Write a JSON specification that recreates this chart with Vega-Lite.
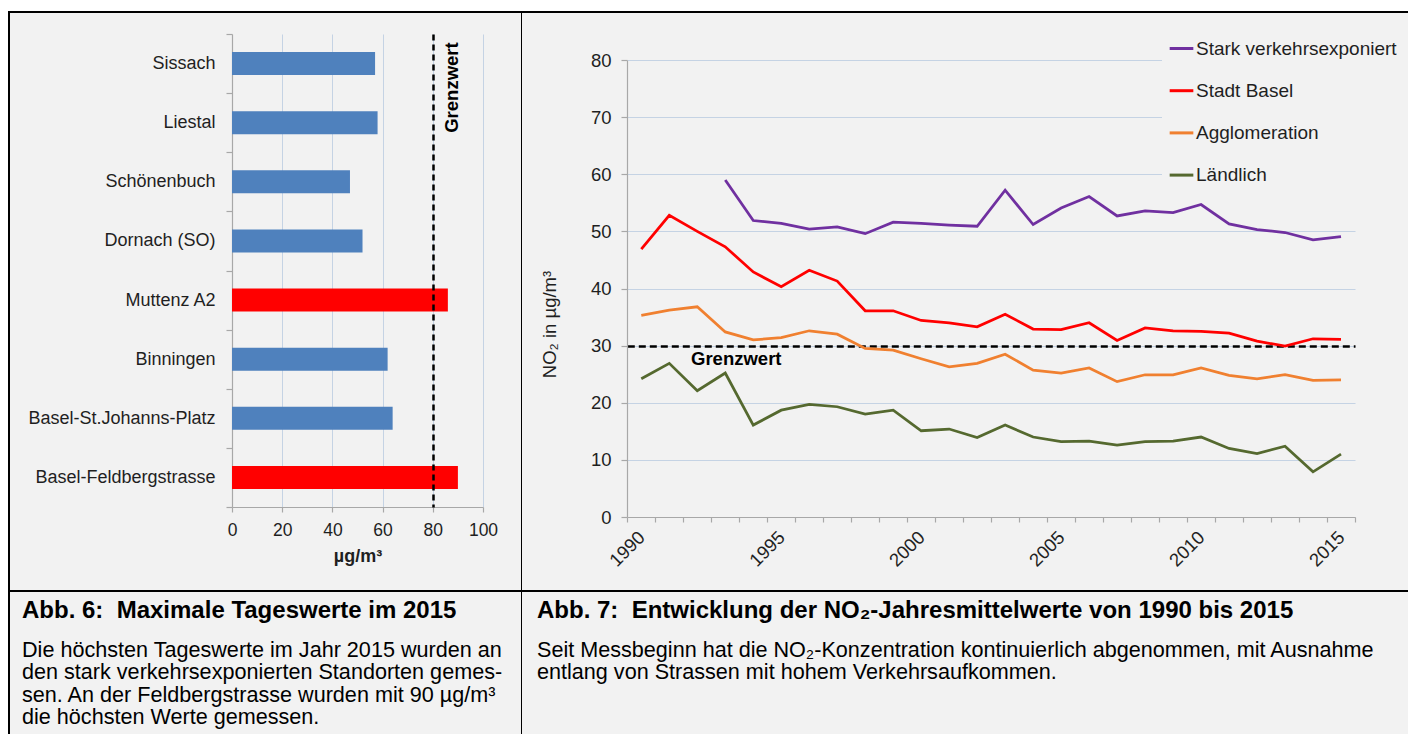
{
  "$schema": "https://vega.github.io/schema/vega-lite/v6.json",
  "background": "#ffffff",
  "padding": {"left": 8, "top": 2, "right": 0, "bottom": 0},
  "spacing": 0,
  "bounds": "flush",
  "align": "each",
  "columns": 2,
  "config": {
    "font": "Liberation Sans, Arial, DejaVu Sans, sans-serif",
    "axis": {
      "labelColor": "#1f1f1f",
      "titleColor": "#1f1f1f",
      "domainColor": "#a8a8a8",
      "tickColor": "#a8a8a8",
      "gridColor": "#c5d3e4",
      "gridWidth": 1,
      "domainWidth": 1.2,
      "tickWidth": 1.2
    }
  },
  "datasets": {
    "stations": [
      {"station": "Sissach", "value": 57},
      {"station": "Liestal", "value": 58},
      {"station": "Schönenbuch", "value": 47},
      {"station": "Dornach (SO)", "value": 52},
      {"station": "Muttenz A2", "value": 86},
      {"station": "Binningen", "value": 62},
      {"station": "Basel-St.Johanns-Platz", "value": 64},
      {"station": "Basel-Feldbergstrasse", "value": 90}
    ],
    "limitBar": [{"station": "Sissach", "value": 80, "label": "Grenzwert"}],
    "limitLine": [{"year": 1993, "value": 30, "label": "Grenzwert"}],
    "no2": [
      {"series": "Stark verkehrsexponiert", "year": 1993, "value": 59.0},
      {"series": "Stark verkehrsexponiert", "year": 1994, "value": 51.9},
      {"series": "Stark verkehrsexponiert", "year": 1995, "value": 51.4},
      {"series": "Stark verkehrsexponiert", "year": 1996, "value": 50.4},
      {"series": "Stark verkehrsexponiert", "year": 1997, "value": 50.8},
      {"series": "Stark verkehrsexponiert", "year": 1998, "value": 49.6},
      {"series": "Stark verkehrsexponiert", "year": 1999, "value": 51.6},
      {"series": "Stark verkehrsexponiert", "year": 2000, "value": 51.4},
      {"series": "Stark verkehrsexponiert", "year": 2001, "value": 51.1},
      {"series": "Stark verkehrsexponiert", "year": 2002, "value": 50.9},
      {"series": "Stark verkehrsexponiert", "year": 2003, "value": 57.2},
      {"series": "Stark verkehrsexponiert", "year": 2004, "value": 51.2},
      {"series": "Stark verkehrsexponiert", "year": 2005, "value": 54.1},
      {"series": "Stark verkehrsexponiert", "year": 2006, "value": 56.1},
      {"series": "Stark verkehrsexponiert", "year": 2007, "value": 52.7},
      {"series": "Stark verkehrsexponiert", "year": 2008, "value": 53.6},
      {"series": "Stark verkehrsexponiert", "year": 2009, "value": 53.3},
      {"series": "Stark verkehrsexponiert", "year": 2010, "value": 54.7},
      {"series": "Stark verkehrsexponiert", "year": 2011, "value": 51.3},
      {"series": "Stark verkehrsexponiert", "year": 2012, "value": 50.3},
      {"series": "Stark verkehrsexponiert", "year": 2013, "value": 49.8},
      {"series": "Stark verkehrsexponiert", "year": 2014, "value": 48.5},
      {"series": "Stark verkehrsexponiert", "year": 2015, "value": 49.1},
      {"series": "Stadt Basel", "year": 1990, "value": 46.9},
      {"series": "Stadt Basel", "year": 1991, "value": 52.8},
      {"series": "Stadt Basel", "year": 1992, "value": 50.0},
      {"series": "Stadt Basel", "year": 1993, "value": 47.3},
      {"series": "Stadt Basel", "year": 1994, "value": 42.9},
      {"series": "Stadt Basel", "year": 1995, "value": 40.3},
      {"series": "Stadt Basel", "year": 1996, "value": 43.2},
      {"series": "Stadt Basel", "year": 1997, "value": 41.3},
      {"series": "Stadt Basel", "year": 1998, "value": 36.1},
      {"series": "Stadt Basel", "year": 1999, "value": 36.1},
      {"series": "Stadt Basel", "year": 2000, "value": 34.4},
      {"series": "Stadt Basel", "year": 2001, "value": 34.0},
      {"series": "Stadt Basel", "year": 2002, "value": 33.3},
      {"series": "Stadt Basel", "year": 2003, "value": 35.5},
      {"series": "Stadt Basel", "year": 2004, "value": 32.9},
      {"series": "Stadt Basel", "year": 2005, "value": 32.8},
      {"series": "Stadt Basel", "year": 2006, "value": 34.0},
      {"series": "Stadt Basel", "year": 2007, "value": 30.9},
      {"series": "Stadt Basel", "year": 2008, "value": 33.1},
      {"series": "Stadt Basel", "year": 2009, "value": 32.6},
      {"series": "Stadt Basel", "year": 2010, "value": 32.5},
      {"series": "Stadt Basel", "year": 2011, "value": 32.2},
      {"series": "Stadt Basel", "year": 2012, "value": 30.8},
      {"series": "Stadt Basel", "year": 2013, "value": 29.9},
      {"series": "Stadt Basel", "year": 2014, "value": 31.2},
      {"series": "Stadt Basel", "year": 2015, "value": 31.1},
      {"series": "Agglomeration", "year": 1990, "value": 35.3},
      {"series": "Agglomeration", "year": 1991, "value": 36.2},
      {"series": "Agglomeration", "year": 1992, "value": 36.8},
      {"series": "Agglomeration", "year": 1993, "value": 32.4},
      {"series": "Agglomeration", "year": 1994, "value": 31.0},
      {"series": "Agglomeration", "year": 1995, "value": 31.4},
      {"series": "Agglomeration", "year": 1996, "value": 32.6},
      {"series": "Agglomeration", "year": 1997, "value": 32.0},
      {"series": "Agglomeration", "year": 1998, "value": 29.5},
      {"series": "Agglomeration", "year": 1999, "value": 29.2},
      {"series": "Agglomeration", "year": 2000, "value": 27.7},
      {"series": "Agglomeration", "year": 2001, "value": 26.3},
      {"series": "Agglomeration", "year": 2002, "value": 26.9},
      {"series": "Agglomeration", "year": 2003, "value": 28.5},
      {"series": "Agglomeration", "year": 2004, "value": 25.7},
      {"series": "Agglomeration", "year": 2005, "value": 25.2},
      {"series": "Agglomeration", "year": 2006, "value": 26.1},
      {"series": "Agglomeration", "year": 2007, "value": 23.7},
      {"series": "Agglomeration", "year": 2008, "value": 24.9},
      {"series": "Agglomeration", "year": 2009, "value": 24.9},
      {"series": "Agglomeration", "year": 2010, "value": 26.1},
      {"series": "Agglomeration", "year": 2011, "value": 24.8},
      {"series": "Agglomeration", "year": 2012, "value": 24.2},
      {"series": "Agglomeration", "year": 2013, "value": 24.9},
      {"series": "Agglomeration", "year": 2014, "value": 23.9},
      {"series": "Agglomeration", "year": 2015, "value": 24.0},
      {"series": "Ländlich", "year": 1990, "value": 24.2},
      {"series": "Ländlich", "year": 1991, "value": 26.9},
      {"series": "Ländlich", "year": 1992, "value": 22.1},
      {"series": "Ländlich", "year": 1993, "value": 25.2},
      {"series": "Ländlich", "year": 1994, "value": 16.1},
      {"series": "Ländlich", "year": 1995, "value": 18.7},
      {"series": "Ländlich", "year": 1996, "value": 19.7},
      {"series": "Ländlich", "year": 1997, "value": 19.3},
      {"series": "Ländlich", "year": 1998, "value": 18.0},
      {"series": "Ländlich", "year": 1999, "value": 18.7},
      {"series": "Ländlich", "year": 2000, "value": 15.1},
      {"series": "Ländlich", "year": 2001, "value": 15.4},
      {"series": "Ländlich", "year": 2002, "value": 13.9},
      {"series": "Ländlich", "year": 2003, "value": 16.1},
      {"series": "Ländlich", "year": 2004, "value": 14.0},
      {"series": "Ländlich", "year": 2005, "value": 13.2},
      {"series": "Ländlich", "year": 2006, "value": 13.3},
      {"series": "Ländlich", "year": 2007, "value": 12.6},
      {"series": "Ländlich", "year": 2008, "value": 13.2},
      {"series": "Ländlich", "year": 2009, "value": 13.3},
      {"series": "Ländlich", "year": 2010, "value": 14.0},
      {"series": "Ländlich", "year": 2011, "value": 12.0},
      {"series": "Ländlich", "year": 2012, "value": 11.1},
      {"series": "Ländlich", "year": 2013, "value": 12.4},
      {"series": "Ländlich", "year": 2014, "value": 7.9},
      {"series": "Ländlich", "year": 2015, "value": 11.0}
    ]
  },
  "concat": [
    {
      "width": 513,
      "height": 579,
      "view": {"fill": "#f2f2f2", "stroke": "#000000", "strokeWidth": 2},
      "resolve": {"axis": {"x": "independent"}},
      "layer": [
        {
          "data": {"name": "stations"},
          "mark": {"type": "bar", "height": {"band": 0.39}},
          "encoding": {
            "y": {
              "field": "station",
              "type": "nominal",
              "scale": {
                "domain": ["Sissach", "Liestal", "Schönenbuch", "Dornach (SO)", "Muttenz A2", "Binningen", "Basel-St.Johanns-Platz", "Basel-Feldbergstrasse"],
                "range": [22, 495],
                "paddingInner": 0,
                "paddingOuter": 0
              },
              "axis": {
                "orient": "left",
                "offset": -223,
                "title": null,
                "tickBand": "extent",
                "tickSize": 6,
                "labelPadding": 11,
                "labelFontSize": 18,
                "labelLimit": 300,
                "grid": false
              }
            },
            "x": {
              "field": "value",
              "type": "quantitative",
              "scale": {"domain": [0, 100], "range": [223, 474], "nice": false},
              "axis": {
                "orient": "bottom",
                "offset": -84,
                "values": [0, 20, 40, 60, 80, 100],
                "grid": false,
                "tickSize": 5,
                "labelPadding": 9,
                "labelFontSize": 17.5,
                "labelFlush": false,
                "title": "µg/m³",
                "titleFontSize": 18,
                "titleFontWeight": "bold",
                "titlePadding": 9
              }
            },
            "color": {"condition": {"test": "datum.value > 80", "value": "#ff0000"}, "value": "#4f81bd"}
          }
        },
        {
          "data": {"name": "stations"},
          "mark": {"type": "point", "opacity": 0},
          "encoding": {
            "y": {"field": "station", "type": "nominal"},
            "x": {
              "field": "value",
              "type": "quantitative",
              "axis": {
                "orient": "top",
                "values": [20, 40, 60, 80, 100],
                "grid": true,
                "labels": false,
                "ticks": false,
                "domain": false,
                "title": null,
                "zindex": 0
              }
            }
          }
        },
        {
          "data": {"name": "limitBar"},
          "mark": {"type": "text", "angle": 270, "fontWeight": "bold", "fontSize": 18.5, "align": "center", "baseline": "middle", "dx": -24, "dy": 19, "color": "#000000"},
          "encoding": {
            "y": {"field": "station", "type": "nominal"},
            "x": {
              "field": "value",
              "type": "quantitative",
              "axis": {
                "orient": "top",
                "values": [80],
                "grid": true,
                "gridColor": "#000000",
                "gridDash": [6, 4],
                "gridWidth": 2.5,
                "labels": false,
                "ticks": false,
                "domain": false,
                "title": null,
                "zindex": 1
              }
            },
            "text": {"field": "label"}
          }
        }
      ]
    },
    {
      "width": 886,
      "height": 579,
      "view": {"fill": "#f2f2f2", "stroke": "#000000", "strokeWidth": 2, "strokeDash": [886, 2044]},
      "resolve": {"axis": {"y": "independent"}},
      "layer": [
        {
          "data": {"name": "no2"},
          "mark": {"type": "line", "strokeWidth": 2.75},
          "encoding": {
            "x": {
              "field": "year",
              "type": "ordinal",
              "scale": {
                "type": "band",
                "domain": [1990, 1991, 1992, 1993, 1994, 1995, 1996, 1997, 1998, 1999, 2000, 2001, 2002, 2003, 2004, 2005, 2006, 2007, 2008, 2009, 2010, 2011, 2012, 2013, 2014, 2015],
                "range": [105.3, 833],
                "paddingInner": 0,
                "paddingOuter": 0
              },
              "axis": {
                "orient": "bottom",
                "offset": -74,
                "title": null,
                "grid": false,
                "tickBand": "extent",
                "tickSize": 5,
                "labelAngle": -45,
                "labelAlign": "right",
                "labelBaseline": "middle",
                "labelPadding": 12,
                "labelFontSize": 18.5,
                "labelExpr": "datum.value % 5 === 0 ? datum.label : ''"
              }
            },
            "y": {
              "field": "value",
              "type": "quantitative",
              "scale": {"domain": [0, 80], "range": [505, 48], "nice": false},
              "axis": {
                "orient": "left",
                "offset": -105,
                "values": [0, 10, 20, 30, 40, 50, 60, 70, 80],
                "grid": true,
                "tickSize": 6,
                "labelPadding": 10,
                "labelFontSize": 18.5,
                "title": "NO₂ in µg/m³",
                "titleFontSize": 18.5,
                "titleFontWeight": "normal",
                "titleAngle": 270,
                "titleAlign": "center",
                "titleBaseline": "middle",
                "titleX": -78,
                "titleY": 312
              }
            },
            "color": {
              "field": "series",
              "type": "nominal",
              "scale": {
                "domain": ["Stark verkehrsexponiert", "Stadt Basel", "Agglomeration", "Ländlich"],
                "range": ["#7030a0", "#ff0000", "#f08030", "#55692f"]
              },
              "legend": {
                "orient": "none",
                "legendX": 1153,
                "legendY": 17,
                "title": null,
                "symbolType": "stroke",
                "symbolSize": 560,
                "symbolStrokeWidth": 3,
                "labelFontSize": 19,
                "labelColor": "#1f1f1f",
                "labelLimit": 320,
                "labelOffset": 1,
                "rowPadding": 18.2,
                "padding": 6,
                "fillColor": "#f2f2f2"
              }
            }
          }
        },
        {
          "data": {"name": "limitLine"},
          "mark": {"type": "text", "fontWeight": "bold", "fontSize": 18.5, "align": "center", "baseline": "middle", "dx": 11, "dy": 13.5, "color": "#000000"},
          "encoding": {
            "x": {"field": "year", "type": "ordinal"},
            "y": {
              "field": "value",
              "type": "quantitative",
              "axis": {
                "orient": "left",
                "values": [30],
                "grid": true,
                "gridColor": "#000000",
                "gridDash": [7, 4],
                "gridWidth": 2.5,
                "labels": false,
                "ticks": false,
                "domain": false,
                "title": null,
                "zindex": 0
              }
            },
            "text": {"field": "label"}
          }
        }
      ]
    },
    {
      "width": 513,
      "height": 143,
      "view": {"fill": "#f2f2f2", "stroke": "#000000", "strokeWidth": 2, "strokeDash": [656, 513, 143, 0]},
      "data": {"values": [{}]},
      "mark": {"type": "point", "opacity": 0},
      "encoding": {},
      "title": {
        "text": "Abb. 6:\u00a0\u00a0Maximale Tageswerte im 2015",
        "subtitle": [
          "Die höchsten Tageswerte im Jahr 2015 wurden an",
          "den stark verkehrsexponierten Standorten gemes-",
          "sen. An der Feldbergstrasse wurden mit 90 µg/m³",
          "die höchsten Werte gemessen."
        ],
        "orient": "bottom",
        "anchor": "start",
        "frame": "group",
        "align": "left",
        "baseline": "top",
        "offset": -135,
        "dx": 13,
        "fontSize": 24,
        "fontWeight": "bold",
        "color": "#000000",
        "subtitleFontSize": 21.6,
        "subtitleColor": "#000000",
        "subtitleLineHeight": 22.3,
        "subtitlePadding": 17
      }
    },
    {
      "width": 886,
      "height": 143,
      "view": {"fill": "#f2f2f2", "stroke": "#000000", "strokeWidth": 2, "strokeDash": [886, 1172]},
      "data": {"values": [{}]},
      "mark": {"type": "point", "opacity": 0},
      "encoding": {},
      "title": {
        "text": "Abb. 7:\u00a0\u00a0Entwicklung der NO₂-Jahresmittelwerte von 1990 bis 2015",
        "subtitle": [
          "Seit Messbeginn hat die NO₂-Konzentration kontinuierlich abgenommen, mit Ausnahme",
          "entlang von Strassen mit hohem Verkehrsaufkommen."
        ],
        "orient": "bottom",
        "anchor": "start",
        "frame": "group",
        "align": "left",
        "baseline": "top",
        "offset": -135,
        "dx": 15,
        "fontSize": 24,
        "fontWeight": "bold",
        "color": "#000000",
        "subtitleFontSize": 21.6,
        "subtitleColor": "#000000",
        "subtitleLineHeight": 22.3,
        "subtitlePadding": 17
      }
    }
  ]
}
